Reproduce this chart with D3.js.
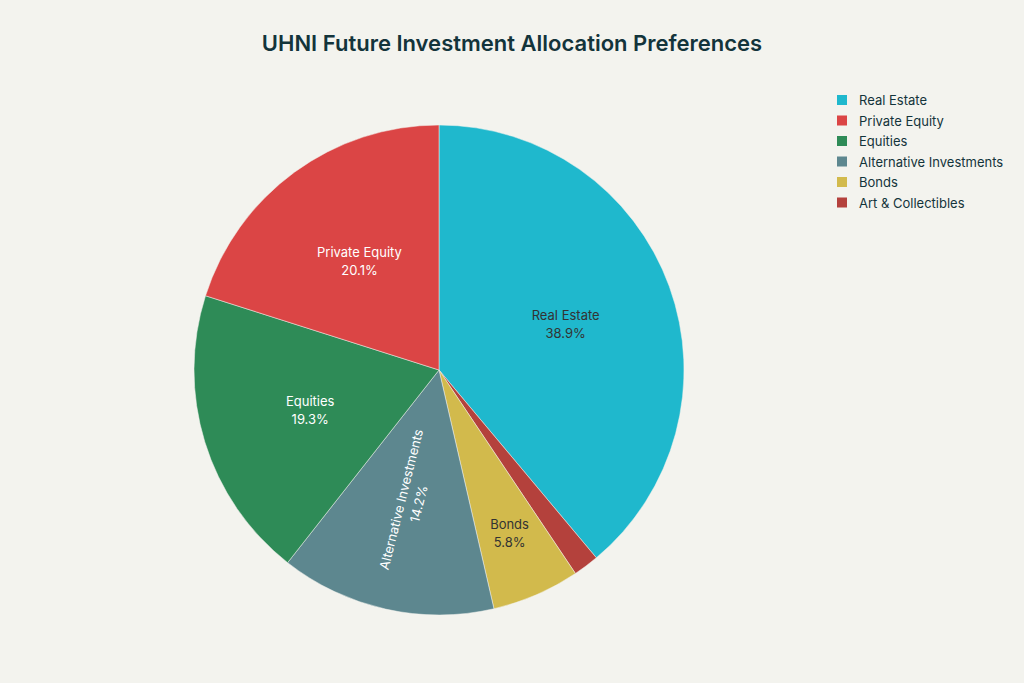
<!DOCTYPE html>
<html>
<head>
<meta charset="utf-8">
<script src="https://cdn.jsdelivr.net/npm/d3@7"></script>
<style>
  body { margin: 0; background: #F3F3EE; }
  svg { font-family: "Inter", "Open Sans", sans-serif; }
</style>
</head>
<body>
<svg id="chart" width="1024" height="683"></svg>
<script>
// slices in drawing order (clockwise from 12 o'clock)
var categories = ["Real Estate", "Art & Collectibles", "Bonds", "Alternative Investments", "Equities", "Private Equity"];
var values = [38.9, 1.7, 5.8, 14.2, 19.3, 20.1];
var colors = ["#1FB8CD", "#B4413C", "#D2BA4C", "#5D878F", "#2E8B57", "#DB4545"];
var darkText = ["Real Estate", "Bonds"];
// legend order
var legendOrder = ["Real Estate", "Private Equity", "Equities", "Alternative Investments", "Bonds", "Art & Collectibles"];

var svg = d3.select("#chart");
var cx = 439, cy = 370, r = 245;

svg.append("text")
  .attr("x", 512).attr("y", 51)
  .attr("text-anchor", "middle")
  .attr("fill", "#13343B")
  .attr("font-size", 22).attr("font-weight", 600)
  .text("UHNI Future Investment Allocation Preferences");

var color = d3.scaleOrdinal().domain(categories).range(colors);
var pie = d3.pie().sort(null).value(function(d) { return d.v; });
var data = categories.map(function(c, i) { return {name: c, v: values[i]}; });
var arcs = pie(data);
var arc = d3.arc().innerRadius(0).outerRadius(r);

var g = svg.append("g").attr("transform", "translate(" + cx + "," + cy + ")");
g.selectAll("path").data(arcs).enter().append("path")
  .attr("d", arc)
  .attr("fill", function(d) { return color(d.data.name); })
  .attr("stroke", "#F3F3EE").attr("stroke-width", 0.5);

var labelArc = d3.arc().innerRadius(0).outerRadius(r * 1.1);
var labels = g.selectAll("g.lbl").data(arcs.filter(function(d) { return d.data.v > 3; }))
  .enter().append("g").attr("class", "lbl")
  .attr("transform", function(d) {
    var p = labelArc.centroid(d);
    if (d.data.name === "Bonds") p = d3.arc().innerRadius(0).outerRadius(r * 1.45).centroid(d);
    var rot = d.data.name === "Alternative Investments" ? -76 : 0;
    return "translate(" + p[0] + "," + p[1] + ") rotate(" + rot + ")";
  });
labels.append("text").attr("text-anchor", "middle").attr("y", -4)
  .attr("font-size", 13)
  .attr("fill", function(d) { return darkText.indexOf(d.data.name) >= 0 ? "#333" : "#fff"; })
  .text(function(d) { return d.data.name; });
labels.append("text").attr("text-anchor", "middle").attr("y", 14)
  .attr("font-size", 13)
  .attr("fill", function(d) { return darkText.indexOf(d.data.name) >= 0 ? "#333" : "#fff"; })
  .text(function(d) { return d.data.v.toFixed(1) + "%"; });

var leg = svg.append("g").attr("transform", "translate(837,100)");
var items = leg.selectAll("g").data(legendOrder).enter().append("g")
  .attr("transform", function(d, i) { return "translate(0," + i * 20.5 + ")"; });
items.append("rect").attr("x", 0).attr("y", -5).attr("width", 10).attr("height", 10)
  .attr("fill", function(d) { return color(d); });
items.append("text").attr("x", 22).attr("y", 5).attr("font-size", 13).attr("fill", "#13343B")
  .text(function(d) { return d; });
</script>
</body>
</html>
